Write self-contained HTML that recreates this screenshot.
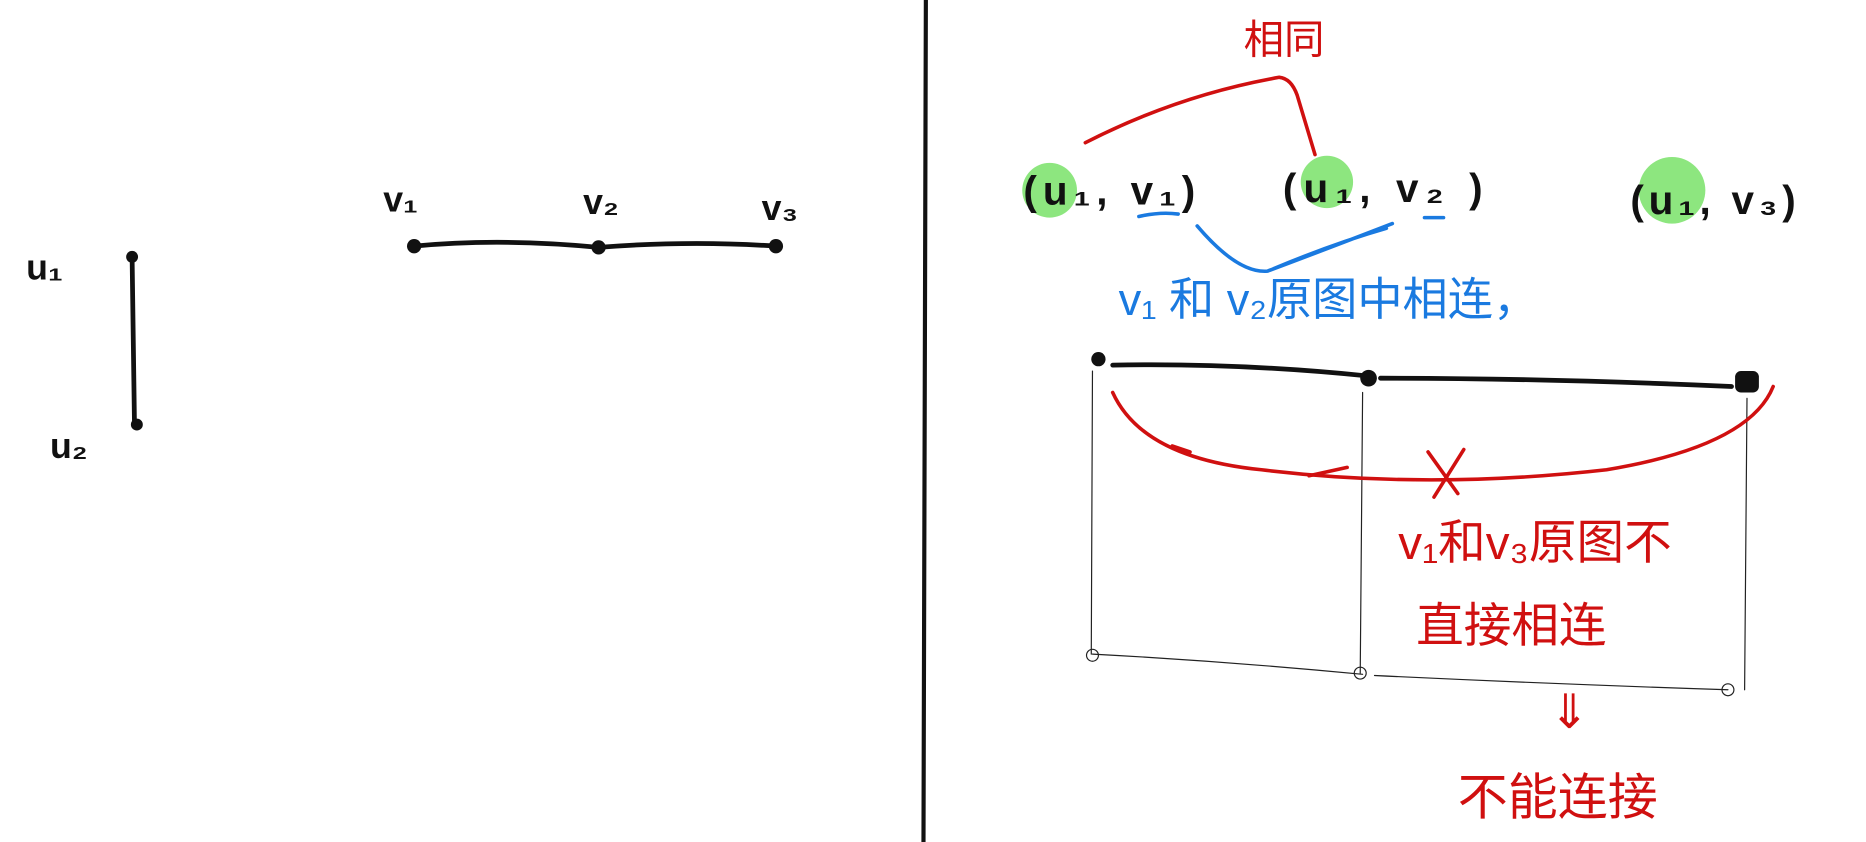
<!DOCTYPE html>
<html><head><meta charset="utf-8"><style>
html,body{margin:0;padding:0;background:#fff;}
svg{display:block}
text{font-family:"Liberation Sans","Noto Sans CJK SC",sans-serif;}
</style></head><body>
<svg width="1866" height="842" viewBox="0 0 1568 708" preserveAspectRatio="none">
<g stroke-linecap="round" fill="none">
<line x1="778" y1="0" x2="776" y2="708" stroke="#111" stroke-width="3.5"/>
<path d="M111 216 L113 357" stroke="#111" stroke-width="4"/>
<circle cx="111" cy="216" r="5" fill="#111"/>
<circle cx="115" cy="357" r="5" fill="#111"/>
<path d="M348 207 Q420 200 503 208 Q580 202 652 207" stroke="#111" stroke-width="4"/>
<circle cx="348" cy="207" r="6" fill="#111"/>
<circle cx="503" cy="208" r="6" fill="#111"/>
<circle cx="652" cy="207" r="6" fill="#111"/>
<circle cx="882" cy="160" r="23" fill="#8de67f" stroke="none"/>
<circle cx="1115" cy="153" r="22" fill="#8de67f" stroke="none"/>
<circle cx="1405" cy="160" r="28" fill="#8de67f" stroke="none"/>
<path d="M912 120 Q990 80 1075 65 Q1085 66 1090 80 L1105 130" stroke="#d01010" stroke-width="3"/>
<path d="M957 182 Q975 178 990 180" stroke="#1a7ae0" stroke-width="3"/>
<path d="M1197 183 L1213 183" stroke="#1a7ae0" stroke-width="3"/>
<path d="M1006 190 Q1040 230 1065 228 Q1100 215 1170 188 M1070 226 Q1120 205 1165 192" stroke="#1a7ae0" stroke-width="3"/>
<path d="M935 307 Q1040 305 1148 316 M1160 318 Q1300 318 1455 325" stroke="#111" stroke-width="4"/>
<circle cx="923" cy="302" r="6" fill="#111"/>
<circle cx="1150" cy="318" r="7" fill="#111"/>
<rect x="1458" y="312" width="20" height="18" rx="5" fill="#111"/>
<path d="M918 312 L917 550 M1145 330 L1143 566 M1468 335 L1466 580 M918 550 Q1030 556 1145 567 M1155 568 Q1300 575 1452 580" stroke="#222" stroke-width="1"/>
<circle cx="918" cy="551" r="5" stroke="#222" stroke-width="1"/>
<circle cx="1143" cy="566" r="5" stroke="#222" stroke-width="1"/>
<circle cx="1452" cy="580" r="5" stroke="#222" stroke-width="1"/>
<path d="M935 330 Q960 385 1060 395 Q1200 412 1350 395 Q1470 375 1490 325" stroke="#d01010" stroke-width="3"/>
<path d="M985 375 L1000 380 M1100 400 L1132 393" stroke="#d01010" stroke-width="3"/>
<path d="M1200 380 L1225 415 M1230 378 L1205 418" stroke="#d01010" stroke-width="3"/>
</g>
<g font-weight="bold" fill="#111">
<text x="22" y="235" font-size="30">u₁</text>
<text x="42" y="385" font-size="30">u₂</text>
<text x="322" y="178" font-size="30">v₁</text>
<text x="490" y="180" font-size="30">v₂</text>
<text x="640" y="185" font-size="30">v₃</text>
<text x="860" y="172" font-size="34" letter-spacing="5">(u₁, v₁)</text>
<text x="1078" y="170" font-size="34" letter-spacing="6">(u₁, v₂ )</text>
<text x="1370" y="180" font-size="34" letter-spacing="4">(u₁, v₃)</text>
</g>
<text x="1045" y="45" font-size="34" fill="#d01010">相同</text>
<text x="940" y="265" font-size="38" fill="#1a7ae0">v₁ 和 v₂原图中相连，</text>
<text x="1175" y="470" font-size="40" fill="#d01010">v₁和v₃原图不</text>
<text x="1190" y="540" font-size="40" fill="#d01010">直接相连</text>
<text x="1302" y="612" font-size="40" fill="#d01010">⇓</text>
<text x="1225" y="685" font-size="42" fill="#d01010">不能连接</text>
</svg>
</body></html>
